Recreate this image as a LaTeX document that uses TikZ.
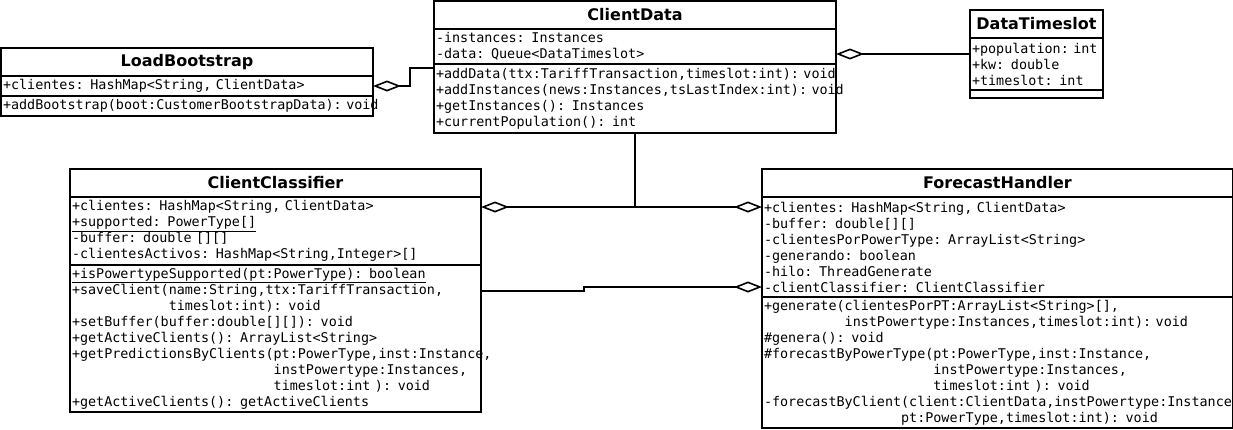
\documentclass[tikz,border=0pt]{standalone}
\usepackage{fontspec}
\usetikzlibrary{positioning,calc,arrows.meta}
\newfontfamily\umlsans{DejaVu Sans}
\newfontfamily\umlmono[WordSpace={1,0,0}]{DejaVu Sans Mono}

\begin{document}
\begin{tikzpicture}[x=1pt,y=-1pt,
  classname/.style={draw,line width=1.6pt,minimum height=28pt,inner sep=0pt,outer sep=0pt,
    anchor=north west,font=\umlsans\bfseries\fontsize{16}{19}\selectfont},
  members/.style={draw,line width=1.6pt,text width=#1,align=left,inner xsep=2pt,inner ysep=0pt,
    outer sep=0pt,font=\umlmono\fontsize{13.4}{16}\selectfont},
  aggr/.style={line width=1.6pt,-{Diamond[open,length=28pt,width=11pt]}}]
\useasboundingbox (0,0) rectangle (1233,429);

% LoadBootstrap
\node [classname,minimum width=372pt] (lbT) at (1,48) {LoadBootstrap};
\node [members=368pt,minimum height=20pt,below=0pt of lbT] (lbA)
  {+clientes: HashMap<String, ClientData>};
\node [members=368pt,minimum height=20pt,below=0pt of lbA] (lbM)
  {+addBootstrap(boot:CustomerBootstrapData):~void};

% ClientData
\node [classname,minimum width=402pt] (cdT) at (434,1) {ClientData};
\node [members=398pt,minimum height=35pt,below=0pt of cdT] (cdA)
  {-instances: Instances\\
   -data: Queue<DataTimeslot>};
\node [members=398pt,minimum height=69pt,below=0pt of cdA] (cdM)
  {+addData(ttx:TariffTransaction,timeslot:int):~void\\
   +addInstances(news:Instances,tsLastIndex:int):~void\\
   +getInstances(): Instances\\
   +currentPopulation(): int};

% DataTimeslot
\node [classname,minimum width=133pt] (dtT) at (970,10) {DataTimeslot};
\node [members=129pt,minimum height=52pt,below=0pt of dtT] (dtA)
  {+population:~int\\
   +kw: double\\
   +timeslot: int};
\node [members=129pt,minimum height=8pt,below=0pt of dtA] (dtM) {};

% ClientClassifier
\node [classname,minimum width=411pt] (ccT) at (70,169) {ClientClassifier};
\node [members=407pt,minimum height=68pt,below=0pt of ccT] (ccA)
  {+clientes: HashMap<String, ClientData>\\
   \underline{+supported: PowerType[]}\\
   -buffer: double [][]\\
   -clientesActivos: HashMap<String,Integer>[]};
\node [members=407pt,minimum height=147pt,below=0pt of ccA] (ccM)
  {\underline{+isPowertypeSupported(pt:PowerType): boolean}\\
   +saveClient(name:String,ttx:TariffTransaction,\\
   \hphantom{+saveClient(}timeslot:int): void\\
   +setBuffer(buffer:double[][]): void\\
   +getActiveClients(): ArrayList<String>\\
   +getPredictionsByClients(pt:PowerType,inst:Instance,\\
   \hphantom{+getPredictionsByClients(}instPowertype:Instances,\\
   \hphantom{+getPredictionsByClients(}timeslot:int ): void\\
   +getActiveClients(): getActiveClients};

% ForecastHandler
\node [classname,minimum width=471pt] (fhT) at (762,169) {ForecastHandler};
\node [members=467pt,minimum height=100pt,below=0pt of fhT] (fhA)
  {+clientes: HashMap<String, ClientData>\\
   -buffer: double[][]\\
   -clientesPorPowerType: ArrayList<String>\\
   -generando: boolean\\
   -hilo: ThreadGenerate\\
   -clientClassifier: ClientClassifier};
\node [members=467pt,minimum height=131pt,below=0pt of fhA] (fhM)
  {+generate(clientesPorPT:ArrayList<String>[],\\
   \hphantom{+generate(}instPowertype:Instances,timeslot:int):~void\\
   \#genera(): void\\
   \#forecastByPowerType(pt:PowerType,inst:Instance,\\
   \hphantom{\#forecastByPowerType(}instPowertype:Instances,\\
   \hphantom{\#forecastByPowerType(}timeslot:int ): void\\
   -forecastByClient(client:ClientData,instPowertype:Instances\\
   \hphantom{-forecastByClient}pt:PowerType,timeslot:int): void};

% aggregations
\draw [aggr] (cdM.north west) ++(0,4) -- ++(-24,0) |- (lbA.east);
\draw [aggr] ($(dtA.north west)+(0,16)$) coordinate (dtIn) -- (dtIn -| cdA.east);
\draw [aggr] (cdM.south) |- ($(ccA.north east)+(0,10)$);
\draw [aggr] (cdM.south) |- ($(fhA.north west)+(0,10)$);
\draw [aggr] ($(ccM.north east)+(0,26)$) -- ++(103,0) |- ($(fhA.south west)+(0,-10)$);
\end{tikzpicture}
\end{document}
